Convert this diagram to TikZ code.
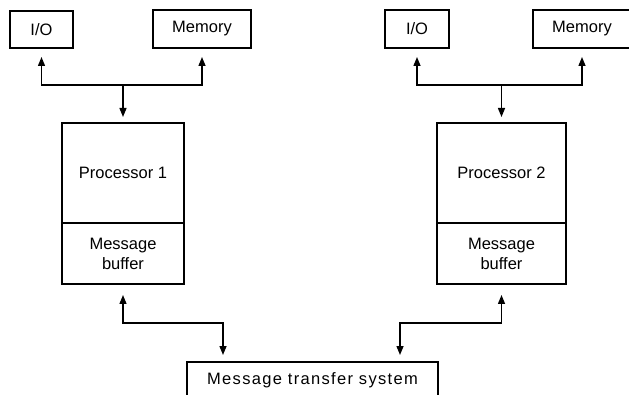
\documentclass[tikz,border=0pt]{standalone}
\usepackage{fontspec}
\setmainfont{Liberation Sans}
\usetikzlibrary{arrows.meta, positioning, calc}
\tikzset{
  x=1pt, y=-1pt,
  font=\fontsize{16.5}{20}\selectfont,
  box/.style={draw, line width=1.4pt, inner sep=0pt, outer sep=0pt, align=center},
  pto/.style={-{Triangle[length=9pt,width=7pt]}, line width=1.4pt, shorten >=6pt},
  dpto/.style={{Triangle[length=9pt,width=7pt]}-{Triangle[length=9pt,width=7pt]}, line width=1.4pt, shorten <=9pt, shorten >=9pt}
}

\begin{document}
\begin{tikzpicture}
    \clip (0,0) rectangle (629,395);

    % first processor with its I/O and memory
    \node[box, minimum width=63, minimum height=37] (io_a) at (41.5,29.5) {I/O};
    \node[box, minimum width=98, minimum height=38] (mem_a) at (202,29) {Memory};
    \node[box, minimum width=122, minimum height=100] (proc_a) at (123,173) {Processor 1};
    \node[box, minimum width=122, minimum height=61, below=0pt of proc_a] (buf_a) {Message\\buffer};

    % second processor with its I/O and memory
    \node[box, minimum width=64, minimum height=38] (io_b) at (417,29) {I/O};
    \node[box, minimum width=98, minimum height=38] (mem_b) at (582,29) {Memory};
    \node[box, minimum width=129, minimum height=100] (proc_b) at (501.5,173) {Processor 2};
    \node[box, minimum width=129, minimum height=61, below=0pt of proc_b] (buf_b) {Message\\buffer};

    % shared transfer system, runs off the bottom
    \node[box, minimum width=251, minimum height=36, anchor=north] (mts) at (312.5,362)
      {\addfontfeature{LetterSpace=8}Message transfer system};

    \coordinate (bus_a) at (123,85);
    \coordinate (bus_b) at (501.5,85);
    \coordinate (link_a) at (223,323);
    \coordinate (link_b) at (400,323);

    \draw[dpto] (io_a.south) |- (bus_a) -| (mem_a.south);
    \draw[pto] (bus_a) -- (proc_a.north);
    \draw[dpto] (io_b.south) |- (bus_b) -| (mem_b.south);
    \draw[pto] (bus_b) -- (proc_b.north);

    \draw[dpto, shorten <=11pt, shorten >=7pt] (buf_a.south) |- (link_a) -- (link_a |- mts.north);
    \draw[dpto, shorten <=11pt, shorten >=7pt] (buf_b.south) |- (link_b) -- (link_b |- mts.north);
\end{tikzpicture}
\end{document}
